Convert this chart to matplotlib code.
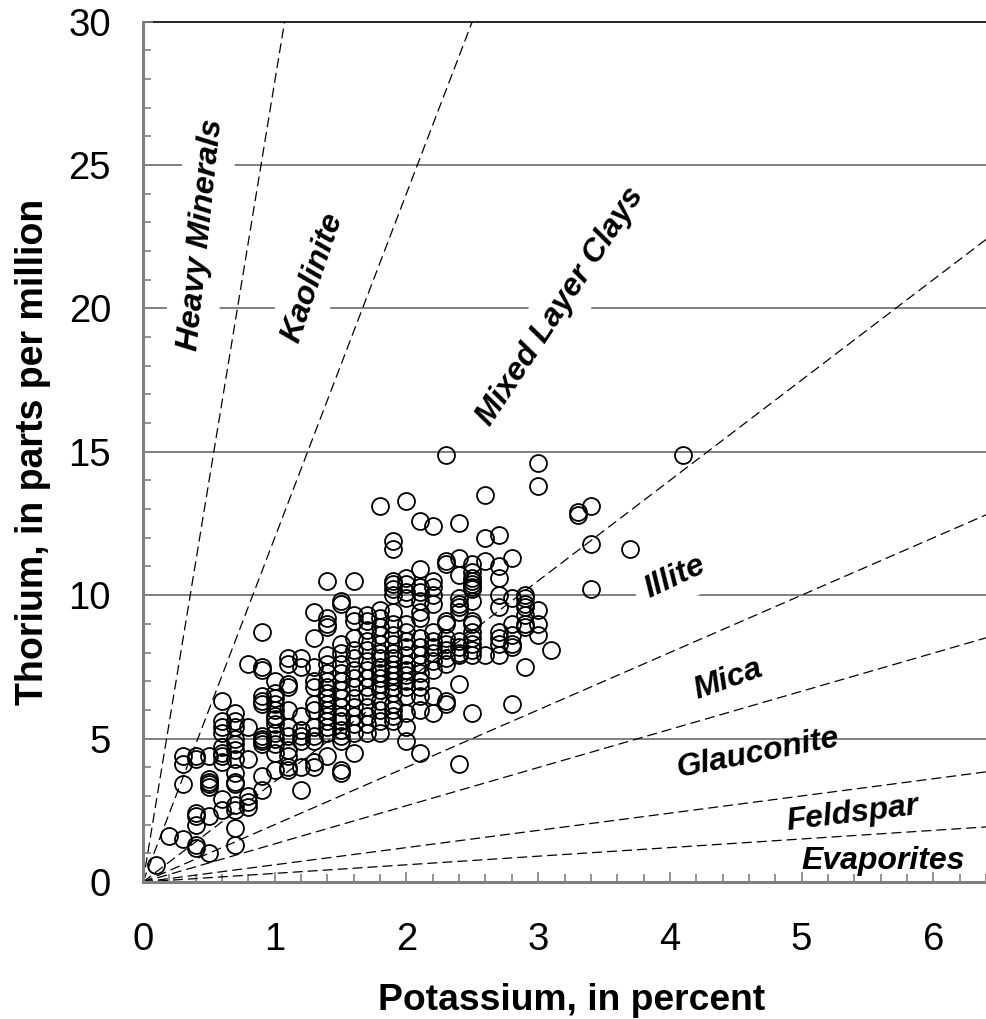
import matplotlib
matplotlib.use('Agg')
import matplotlib.pyplot as plt
from matplotlib.ticker import MultipleLocator

plt.rcParams['font.family'] = ['Liberation Sans', 'DejaVu Sans']

# Thorium readings for each potassium value
th_k01 = [0.6]
th_k02 = [1.6]
th_k03 = [1.5, 3.4, 4.1, 4.4]
th_k04 = [1.2, 1.3, 2.0, 2.3, 2.4, 4.3, 4.4]
th_k05 = [1.0, 2.3, 3.3, 3.4, 3.5, 3.6, 4.4]
th_k06 = [2.5, 2.9, 4.2, 4.4, 4.5, 4.7, 5.2, 5.4, 5.6, 6.3]
th_k07 = [1.3, 1.9, 2.5, 2.7, 3.4, 3.5, 3.8, 4.3, 4.6, 4.8, 5.0, 5.4, 5.6, 5.9]
th_k08 = [2.6, 2.8, 3.0, 4.3, 5.4, 7.6]
th_k09 = [3.2, 3.7, 4.8, 4.9, 5.0, 5.1, 6.2, 6.3, 6.5, 7.4, 7.5, 8.7]
th_k10 = [3.9, 4.5, 4.8, 5.0, 5.2, 5.5, 5.7, 5.8, 6.0, 6.2, 6.4, 6.6, 7.0]
th_k11 = [3.9, 4.0, 4.4, 4.6, 5.1, 5.4, 6.0, 6.8, 6.9, 7.6, 7.8]
th_k12 = [3.2, 4.0, 4.9, 5.1, 5.3, 5.8, 7.5, 7.8]
th_k13 = [4.0, 4.2, 4.9, 5.1, 5.4, 6.0, 6.2, 6.8, 7.0, 7.5, 8.5, 9.4]
th_k14 = [4.4, 5.2, 5.4, 5.6, 5.8, 6.0, 6.2, 6.4, 6.6, 6.8, 7.0, 7.3, 7.6, 7.9, 8.9, 9.0, 9.2, 10.5]
th_k15 = [3.8, 3.9, 4.9, 5.1, 5.3, 5.6, 5.8, 6.1, 6.4, 6.7, 7.0, 7.3, 7.6, 8.0, 8.3, 9.7, 9.8]
th_k16 = [4.5, 5.2, 5.5, 5.8, 6.1, 6.4, 6.8, 7.1, 7.4, 7.8, 8.1, 8.5, 9.1, 9.3, 10.5]
th_k17 = [5.2, 5.5, 5.8, 6.1, 6.5, 6.8, 7.1, 7.4, 7.7, 8.1, 8.4, 8.8, 9.1, 9.3]
th_k18 = [5.2, 5.6, 6.0, 6.3, 6.7, 6.9, 7.1, 7.3, 7.5, 7.8, 8.0, 8.3, 8.6, 8.9, 9.2, 9.5, 13.1]
th_k19 = [5.6, 5.8, 6.0, 6.2, 6.6, 6.8, 7.0, 7.2, 7.4, 7.6, 7.8, 8.0, 8.3, 8.6, 9.0, 9.4, 10.0, 10.2, 10.4, 10.5, 11.6, 11.9]
th_k20 = [4.9, 5.4, 5.9, 6.5, 6.8, 7.0, 7.2, 7.4, 7.6, 7.9, 8.2, 8.4, 8.7, 9.0, 9.9, 10.1, 10.4, 10.6, 13.3]
th_k21 = [4.5, 6.0, 6.5, 6.8, 7.0, 7.3, 7.6, 7.9, 8.2, 8.5, 9.2, 9.4, 9.8, 10.1, 10.3, 10.9, 12.6]
th_k22 = [5.9, 6.5, 7.4, 7.7, 8.0, 8.2, 8.4, 8.7, 9.7, 10.0, 10.3, 10.5, 12.4]
th_k23 = [6.2, 6.3, 7.6, 7.8, 8.1, 8.3, 8.5, 9.1, 9.0, 11.1, 11.2, 14.9]
th_k24 = [4.1, 6.9, 7.9, 8.0, 8.2, 8.4, 9.4, 9.6, 9.7, 9.9, 10.7, 11.3, 12.5]
th_k25 = [5.9, 7.9, 8.1, 8.3, 8.5, 8.7, 9.0, 9.1, 9.8, 10.2, 10.3, 10.4, 10.5, 10.6, 10.8, 11.1]
th_k26 = [7.9, 11.2, 12.0, 13.5]
th_k27 = [7.9, 8.3, 8.5, 8.7, 9.6, 10.0, 10.6, 11.0, 12.1]
th_k28 = [6.2, 8.2, 8.3, 8.6, 9.0, 9.9, 11.3]
th_k29 = [7.5, 8.9, 9.0, 9.3, 9.6, 9.7, 9.9, 10.0]
th_k30 = [8.6, 9.0, 9.5, 13.8, 14.6]
th_k31 = [8.1]
th_k33 = [12.8, 12.9]
th_k34 = [10.2, 11.8, 13.1]
th_k37 = [11.6]
th_k41 = [14.9]

k_columns = [0.1, 0.2, 0.3, 0.4, 0.5, 0.6, 0.7, 0.8, 0.9, 1.0, 1.1, 1.2, 1.3, 1.4, 1.5, 1.6, 1.7, 1.8,
             1.9, 2.0, 2.1, 2.2, 2.3, 2.4, 2.5, 2.6, 2.7, 2.8, 2.9, 3.0, 3.1, 3.3, 3.4, 3.7, 4.1]
th_columns = [th_k01, th_k02, th_k03, th_k04, th_k05, th_k06, th_k07, th_k08, th_k09, th_k10, th_k11, th_k12,
              th_k13, th_k14, th_k15, th_k16, th_k17, th_k18, th_k19, th_k20, th_k21, th_k22, th_k23, th_k24,
              th_k25, th_k26, th_k27, th_k28, th_k29, th_k30, th_k31, th_k33, th_k34, th_k37, th_k41]

# Th/K ratios of the dashed mineral lines
line_ratios = [27.9, 12.0, 3.5, 2.0, 1.33, 0.6, 0.3]

mineral_names = ['Heavy Minerals', 'Kaolinite', 'Mixed Layer Clays', 'Illite', 'Mica', 'Glauconite', 'Feldspar', 'Evaporites']
mineral_x = [0.44, 1.29, 3.17, 4.04, 4.44, 4.67, 5.39, 5.62]
mineral_y = [22.56, 21.06, 20.05, 10.63, 7.04, 4.5, 2.37, 0.73]
mineral_rot = [84, 71, 56.5, 25, 19.5, 11, 7, 0]
mineral_gap = [True, True, True, True, False, False, False, False]

fig = plt.figure(figsize=(9.86, 10.19), dpi=100)
ax = fig.add_axes([143 / 986, (1019 - 882) / 1019, 843 / 986, 860.5 / 1019])

ax.set_xlim(0, 6.4)
ax.set_ylim(0, 30)

# grid lines
for y in [5, 10, 15, 20, 25]:
    ax.axhline(y, color='#808080', lw=1.4, zorder=1)

# dashed lines from the origin
for r in line_ratios:
    ax.plot([0, 6.4], [0, 6.4 * r], color='black', lw=0.9, dashes=(8, 4), zorder=2)

# data points
for k, th in zip(k_columns, th_columns):
    ax.plot([k] * len(th), th, 'o', mfc='none', mec='black', mew=1.3, ms=12.2, zorder=3, clip_on=False)

# mineral labels, the white box cuts the grid lines but not the dashed lines
for name, x, y, rot, gap in zip(mineral_names, mineral_x, mineral_y, mineral_rot, mineral_gap):
    box = dict(fc='white', ec='none', pad=8) if gap else None
    ax.text(x, y, name, rotation=rot, ha='center', va='center', rotation_mode='anchor',
            fontsize=23, fontweight='bold', fontstyle='italic', bbox=box, zorder=1.5)

ax.spines['right'].set_visible(False)
ax.spines['left'].set_color('#808080')
ax.spines['left'].set_linewidth(2.2)
ax.spines['bottom'].set_color('#808080')
ax.spines['bottom'].set_linewidth(2.2)
ax.spines['top'].set_color('black')
ax.spines['top'].set_linewidth(1.2)
ax.spines['top'].set_zorder(1)

ax.xaxis.set_major_locator(MultipleLocator(1))
ax.xaxis.set_minor_locator(MultipleLocator(0.2))
ax.yaxis.set_major_locator(MultipleLocator(5))
ax.yaxis.set_minor_locator(MultipleLocator(1))
ax.tick_params(which='major', direction='in', length=7, width=1.2, color='#808080', labelsize=27.5)
ax.tick_params(which='minor', direction='in', length=5.5, width=1.2, color='#808080')
ax.tick_params(axis='x', which='major', pad=29)
ax.tick_params(axis='y', which='major', pad=23)

ax.set_xlabel('Potassium, in percent', fontsize=26.8, fontweight='bold', va='center')
ax.set_ylabel('Thorium, in parts per million', fontsize=27, fontweight='bold', va='center')
ax.xaxis.set_label_coords(0.509, -0.1375)
ax.yaxis.set_label_coords(-0.130, 0.5)

fig.savefig('out.png', dpi=100)
